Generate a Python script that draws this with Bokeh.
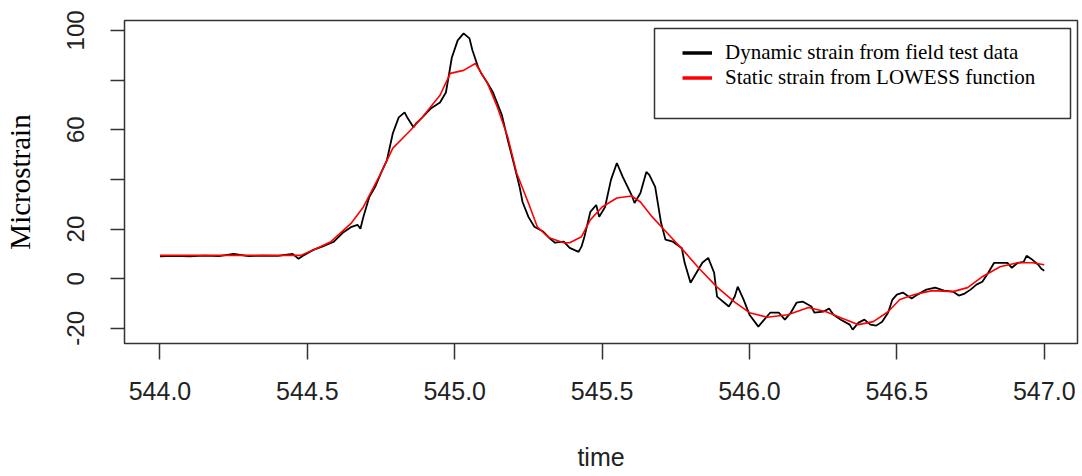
from bokeh.plotting import figure
from bokeh.models import (Range1d, FixedTicker, Legend, LegendItem, BoxAnnotation)
from bokeh.embed import file_html
from bokeh.resources import INLINE

# ---- data ----
dyn_time = [544.00, 544.05, 544.10, 544.15, 544.20, 544.25, 544.30, 544.35, 544.40, 544.45,
            544.47, 544.49, 544.52, 544.55, 544.59, 544.62, 544.65, 544.67, 544.68, 544.69,
            544.71, 544.73, 544.75, 544.77, 544.79, 544.81, 544.83, 544.84, 544.86, 544.87,
            544.89, 544.92, 544.95, 544.97, 544.98, 544.99, 545.01, 545.03, 545.05, 545.06,
            545.08, 545.09, 545.11, 545.13, 545.16, 545.18, 545.20, 545.22, 545.23, 545.25,
            545.27, 545.30, 545.32, 545.34, 545.37, 545.39, 545.42, 545.43, 545.44, 545.46,
            545.48, 545.49, 545.51, 545.53, 545.55, 545.57, 545.60, 545.61, 545.63, 545.65,
            545.66, 545.68, 545.70, 545.715, 545.74, 545.77, 545.78, 545.80, 545.82, 545.84,
            545.86, 545.88, 545.89, 545.93, 545.95, 545.96, 545.98, 546.00, 546.03, 546.05,
            546.07, 546.10, 546.12, 546.14, 546.16, 546.18, 546.21, 546.22, 546.25, 546.27,
            546.285, 546.31, 546.34, 546.35, 546.37, 546.39, 546.41, 546.43, 546.45, 546.47,
            546.485, 546.50, 546.52, 546.55, 546.57, 546.60, 546.63, 546.66, 546.69, 546.71,
            546.73, 546.75, 546.77, 546.79, 546.81, 546.83, 546.85, 546.875, 546.89, 546.91,
            546.93, 546.94, 546.96, 546.98, 546.99, 547.00]
dyn_strain = [9.0, 9.2, 9.0, 9.3, 9.1, 10.0, 9.1, 9.3, 9.2, 10.0,
              8.0, 9.6, 11.6, 12.9, 14.9, 18.5, 20.9, 21.7, 20.1, 24.9,
              32.9, 37.0, 42.6, 47.8, 58.6, 65.0, 67.0, 64.7, 61.0, 62.7,
              65.0, 68.7, 71.0, 75.0, 81.9, 89.0, 96.0, 98.8, 96.8, 92.0,
              85.0, 82.7, 79.0, 75.0, 65.9, 55.8, 46.6, 37.0, 30.9, 24.9,
              20.9, 19.0, 16.5, 14.5, 14.9, 12.4, 10.8, 12.9, 16.9, 26.9,
              29.7, 24.9, 28.9, 39.8, 46.6, 41.0, 33.7, 30.5, 34.5, 43.0,
              41.8, 37.0, 22.5, 15.7, 14.9, 12.4, 6.4, -1.6, 2.4, 6.4,
              8.4, 2.4, -7.2, -11.2, -7.2, -3.2, -8.4, -14.5, -19.3, -16.5,
              -13.7, -13.7, -16.5, -13.7, -9.6, -9.2, -11.2, -13.7, -13.3, -12.0,
              -14.5, -16.5, -18.5, -20.5, -17.7, -16.5, -18.5, -18.9, -17.3, -13.7,
              -8.4, -6.4, -5.6, -8.0, -6.4, -4.4, -3.6, -4.8, -5.2, -6.8,
              -6.0, -4.4, -2.4, -1.2, 2.4, 6.4, 6.4, 6.4, 4.4, 6.4,
              6.8, 9.2, 7.6, 5.6, 4.0, 3.2]

static_time = [544.00, 544.477, 544.52, 544.58, 544.65, 544.69, 544.75, 544.79, 544.85, 544.89,
               544.95, 544.985, 545.03, 545.07, 545.11, 545.145, 545.18, 545.21, 545.25, 545.28,
               545.32, 545.37, 545.39, 545.43, 545.46, 545.50, 545.55, 545.60, 545.63, 545.67,
               545.72, 545.78, 545.83, 545.89, 545.95, 546.00, 546.06, 546.13, 546.20, 546.26,
               546.31, 546.37, 546.42, 546.47, 546.51, 546.56, 546.62, 546.69, 546.74, 546.79,
               546.85, 546.91, 546.96, 547.00]
static_strain = [9.4, 9.4, 11.6, 14.9, 22.5, 28.9, 42.6, 52.6, 59.8, 65.0,
                 73.9, 82.7, 83.9, 86.7, 79.0, 69.0, 57.0, 42.6, 30.5, 20.9,
                 16.5, 14.5, 14.5, 16.9, 23.7, 28.9, 32.5, 33.3, 30.9, 24.9,
                 18.5, 10.8, 4.0, -3.4, -9.4, -13.7, -15.5, -14.5, -11.6, -13.3,
                 -15.7, -18.5, -17.3, -13.3, -8.4, -6.4, -4.8, -5.2, -3.6, 0.8,
                 4.8, 6.4, 6.4, 5.6]

x_ticks = [544.0, 544.5, 545.0, 545.5, 546.0, 546.5, 547.0]
x_tick_labels = ["544.0", "544.5", "545.0", "545.5", "546.0", "546.5", "547.0"]
y_ticks = [-20, 0, 20, 40, 60, 80, 100]
y_tick_labels = ["-20", "0", "20", "", "60", "", "100"]

legend_labels = ["Dynamic strain from field test data",
                 "Static strain from LOWESS function"]

# ---- figure ----
p = figure(width=1082, height=476,
           x_range=Range1d(543.8796, 547.1128), y_range=Range1d(-26.1, 104.0),
           output_backend="svg", toolbar_location=None,
           min_border_left=124, min_border_right=5,
           min_border_top=20, min_border_bottom=133)

p.background_fill_color = "white"
p.border_fill_color = "white"
p.grid.visible = False
p.outline_line_color = "#333333"
p.outline_line_width = 1.5

p.line(dyn_time, dyn_strain, line_color="black", line_width=1.8)
p.line(static_time, static_strain, line_color="red", line_width=1.6)

# legend proxies (thicker legend keys), no visible data
nan = float("nan")
r_dyn_key = p.line(x=[nan], y=[nan], line_color="black", line_width=3.5)
r_sta_key = p.line(x=[nan], y=[nan], line_color="red", line_width=3.5)

# axes
xa = p.xaxis[0]
xa.ticker = FixedTicker(ticks=x_ticks)
xa.major_label_overrides = {t: l for t, l in zip(x_ticks, x_tick_labels)}
xa.minor_tick_line_color = None
xa.major_tick_in = 0
xa.major_tick_out = 16
xa.major_tick_line_color = "#333333"
xa.major_tick_line_width = 1.5
xa.axis_line_color = None
xa.major_label_text_font = "Liberation Sans"
xa.major_label_text_font_size = "25px"
xa.major_label_text_color = "#222222"
xa.major_label_standoff = 22
xa.axis_label = "time"
xa.axis_label_text_font = "Liberation Sans"
xa.axis_label_text_font_size = "25px"
xa.axis_label_text_font_style = "normal"
xa.axis_label_text_color = "#222222"
xa.axis_label_standoff = 40

ya = p.yaxis[0]
ya.ticker = FixedTicker(ticks=y_ticks)
ya.major_label_overrides = {t: l for t, l in zip(y_ticks, y_tick_labels)}
ya.minor_tick_line_color = None
ya.major_tick_in = 0
ya.major_tick_out = 14
ya.major_tick_line_color = "#333333"
ya.major_tick_line_width = 1.5
ya.axis_line_color = None
ya.major_label_orientation = "vertical"
ya.major_label_text_font = "Liberation Sans"
ya.major_label_text_font_size = "24px"
ya.major_label_text_color = "#222222"
ya.major_label_standoff = 26
ya.axis_label = "Microstrain"
ya.axis_label_text_font = "Liberation Serif"
ya.axis_label_text_font_size = "29px"
ya.axis_label_text_font_style = "normal"
ya.axis_label_text_color = "black"
ya.axis_label_standoff = 29

# legend
legend = Legend(items=[LegendItem(label=legend_labels[0], renderers=[r_dyn_key]),
                       LegendItem(label=legend_labels[1], renderers=[r_sta_key])],
                location=(558, 253), margin=0, padding=5,
                glyph_width=30, glyph_height=21, label_height=21, spacing=0,
                label_standoff=13,
                label_text_font="Liberation Serif", label_text_font_size="21px",
                label_text_color="black",
                border_line_color=None, background_fill_alpha=0)
p.add_layout(legend, "center")

legend_frame = BoxAnnotation(left=530, right=946, top=315, bottom=225,
                             left_units="screen", right_units="screen",
                             top_units="screen", bottom_units="screen",
                             fill_alpha=0, line_color="#333333", line_alpha=1.0,
                             line_width=1.5, level="overlay")
p.add_layout(legend_frame)

open("out.html", "w").write(file_html(p, INLINE))
